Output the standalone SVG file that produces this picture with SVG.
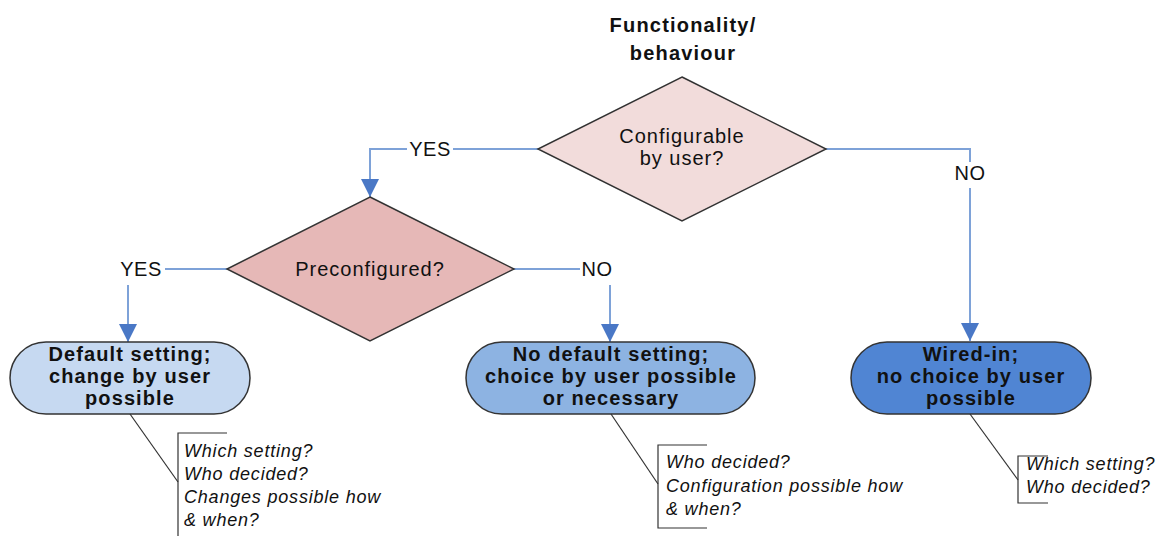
<svg xmlns="http://www.w3.org/2000/svg" width="1156" height="536" viewBox="0 0 1156 536">
<defs>
<marker id="arr" markerUnits="userSpaceOnUse" markerWidth="18" markerHeight="18" refX="18" refY="9" orient="auto">
<path d="M0,0 L18,9 L0,18 z" fill="#4a78c6"/>
</marker>
<style>
.bg{fill:#ffffff}
.t{font-family:"Liberation Sans",Arial,sans-serif;fill:#111;}
.title{font-size:20px;font-weight:bold;letter-spacing:1.2px;text-anchor:middle}
.q{font-size:20px;letter-spacing:1px;text-anchor:middle}
.lbl{font-size:20px;text-anchor:middle;letter-spacing:0.5px}
.nb{font-size:20px;font-weight:bold;letter-spacing:1.1px;text-anchor:middle}
.note{font-size:18px;font-style:italic;letter-spacing:0.8px}
.dia{stroke:#333;stroke-width:1.5}
.box{stroke:#333;stroke-width:1.5}
.con{fill:none;stroke:#7ea2d8;stroke-width:2}
.call{fill:none;stroke:#333;stroke-width:1.2}
</style>
</defs>
<rect class="bg" x="0" y="0" width="1156" height="536"/>

<g id="title">
<text class="t title" x="683" y="32">Functionality/</text>
<text class="t title" x="683" y="60">behaviour</text>
</g>

<g id="connectors">
<path class="con" d="M538,149 H453"/>
<path class="con" d="M407,149 H370 V197" marker-end="url(#arr)"/>
<path class="con" d="M826,149 H970 V162"/>
<path class="con" d="M970,188 V341" marker-end="url(#arr)"/>
<path class="con" d="M227,269 H165"/>
<path class="con" d="M128,285 V342" marker-end="url(#arr)"/>
<path class="con" d="M514,269 H580"/>
<path class="con" d="M610,285 V342" marker-end="url(#arr)"/>
<text class="t lbl" x="430" y="156">YES</text>
<text class="t lbl" x="970" y="180">NO</text>
<text class="t lbl" x="141" y="276">YES</text>
<text class="t lbl" x="597" y="276">NO</text>
</g>

<g id="configurable">
<polygon class="dia" points="682,77 826,149 682,221 538,149" fill="#f2dcdb"/>
<text class="t q" x="682" y="143">Configurable</text>
<text class="t q" x="682" y="165">by user?</text>
</g>

<g id="preconfigured">
<polygon class="dia" points="370,197 514,269 370,341 227,269" fill="#e6b8b7"/>
<text class="t q" x="370" y="276">Preconfigured?</text>
</g>

<g id="default">
<rect class="box" x="10" y="342" width="240" height="72" rx="36" fill="#c6d9f1"/>
<text class="t nb" x="130" y="361">Default setting;</text>
<text class="t nb" x="130" y="383">change by user</text>
<text class="t nb" x="130" y="405">possible</text>
</g>

<g id="nodefault">
<rect class="box" x="466" y="342" width="289" height="72" rx="36" fill="#8db3e2"/>
<text class="t nb" x="611" y="361">No default setting;</text>
<text class="t nb" x="611" y="383">choice by user possible</text>
<text class="t nb" x="611" y="405">or necessary</text>
</g>

<g id="wiredin">
<rect class="box" x="851" y="342" width="240" height="72" rx="36" fill="#5085d3"/>
<text class="t nb" x="971" y="361">Wired-in;</text>
<text class="t nb" x="971" y="383">no choice by user</text>
<text class="t nb" x="971" y="405">possible</text>
</g>

<g id="note-default">
<path class="call" d="M130,414 L178,482"/>
<path class="call" d="M227,433 H178 V536"/>
<text class="t note" x="184" y="457">Which setting?</text>
<text class="t note" x="184" y="480">Who decided?</text>
<text class="t note" x="184" y="503">Changes possible how</text>
<text class="t note" x="184" y="526">&amp; when?</text>
</g>

<g id="note-nodefault">
<path class="call" d="M611,414 L658,484"/>
<path class="call" d="M707,445 H658 V528 H707"/>
<text class="t note" x="666" y="468">Who decided?</text>
<text class="t note" x="666" y="492">Configuration possible how</text>
<text class="t note" x="666" y="515">&amp; when?</text>
</g>

<g id="note-wiredin">
<path class="call" d="M970,414 L1018,480"/>
<path class="call" d="M1048,456 H1018 V503 H1048"/>
<text class="t note" x="1026" y="470">Which setting?</text>
<text class="t note" x="1026" y="493">Who decided?</text>
</g>
</svg>
